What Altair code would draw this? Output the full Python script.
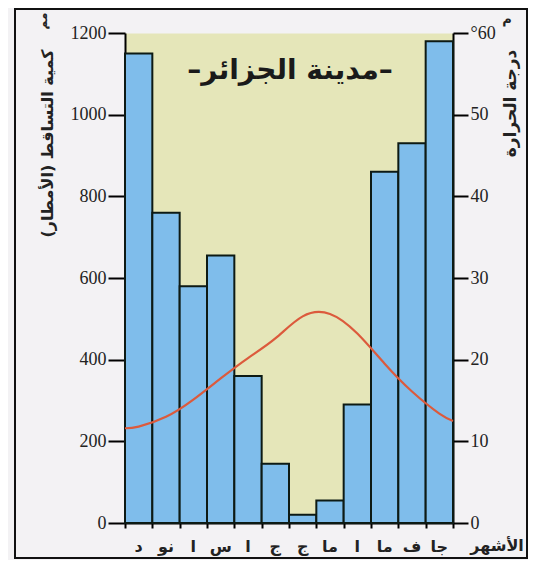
import altair as alt
import pandas as pd

# Months shown right-to-left in the reference (Dec ... Jan from left to right)
months = ["د", "نو", "ا", "س", "ا", "ج", "ج", "ما", "ا", "ما", "ف", "جا"]
precip = [1150, 760, 580, 655, 360, 145, 20, 55, 290, 860, 930, 1180]
temp = [11.8, 13.0, 15.1, 17.7, 20.2, 22.6, 25.3, 25.6, 23.2, 19.5, 16.1, 13.4]
temp_left_edge = 11.6
temp_right_edge = 12.5

title_text = "–مدينة الجزائر–"
left_title = "كمية التساقط (الأمطار)"
right_title = "درجة الحرارة"
x_title = "الأشهر"

df = pd.DataFrame({"idx": list(range(len(months))), "month": months, "precip": precip})
temp_pos = [0.0] + [i + 0.5 for i in range(len(temp))] + [float(len(temp))]
temp_vals = [temp_left_edge] + temp + [temp_right_edge]
tdf = pd.DataFrame({"pos": temp_pos, "temp": temp_vals})

W, H = 328, 490
ARAB = "DejaVu Sans"
SERIF = "Liberation Serif"

xscale = alt.Scale(domain=[0, 12], nice=False, zero=False, padding=0)
xaxis = alt.Axis(values=list(range(13)), labels=False, tickSize=5, tickWidth=2,
                 tickColor="black", domainColor="black", domainWidth=2,
                 grid=False, title=None)

left_axis = alt.Axis(values=[0, 200, 400, 600, 800, 1000, 1200], format="d", tickSize=17, tickWidth=2,
                     tickColor="black", domainColor="black", domainWidth=2, grid=False,
                     labelFont=SERIF, labelFontSize=18, labelColor="#222", labelPadding=2,
                     title=left_title, titleFont=ARAB, titleFontSize=16, titleFontWeight="bold",
                     titleColor="#222", titleAngle=270, titleX=-78, titleY=110,
                     titleAlign="center", titleBaseline="middle")

right_axis = alt.Axis(orient="right", values=[0, 10, 20, 30, 40, 50, 60], format="d", tickSize=15,
                      tickWidth=2, tickColor="black", domainColor="black", domainWidth=2, grid=False,
                      labelFont=SERIF, labelFontSize=18, labelColor="#222", labelPadding=2,
                      labelExpr="datum.value == 60 ? '°60' : datum.label",
                      title=right_title, titleFont=ARAB, titleFontSize=17, titleFontWeight="bold",
                      titleColor="#222", titleAngle=270, titleX=57, titleY=70,
                      titleAlign="center", titleBaseline="middle")

frame = alt.Chart(pd.DataFrame({"k": [0]})).mark_rect(
    fill="transparent", stroke="#111", strokeWidth=2
).encode(x=alt.value(-110), x2=alt.value(402), y=alt.value(-24), y2=alt.value(525))

bars = alt.Chart(df).transform_calculate(
    x0="datum.idx", x1="datum.idx + 1", base="0"
).mark_rect(color="#7fbdeb", stroke="#0d1a14", strokeWidth=2).encode(
    x=alt.X("x0:Q", scale=xscale, axis=xaxis),
    x2="x1:Q",
    y=alt.Y("precip:Q", scale=alt.Scale(domain=[0, 1200], nice=False, padding=0), axis=left_axis),
    y2="base:Q",
)

line = alt.Chart(tdf).mark_line(color="#dc5a3c", strokeWidth=2.2, interpolate="natural").encode(
    x=alt.X("pos:Q", scale=xscale, axis=xaxis),
    y=alt.Y("temp:Q", scale=alt.Scale(domain=[0, 60], nice=False, padding=0), axis=right_axis),
)

month_labels = alt.Chart(df).transform_calculate(xc="datum.idx + 0.5").mark_text(
    font=ARAB, fontSize=16, fontWeight="bold", color="#222", baseline="middle"
).encode(x=alt.X("xc:Q", scale=xscale, axis=xaxis), y=alt.value(514), text="month:N")

xt = alt.Chart(pd.DataFrame({"t": [x_title]})).mark_text(
    font=ARAB, fontSize=16, fontWeight="bold", color="#222", baseline="middle", align="center"
).encode(x=alt.value(372), y=alt.value(513), text="t:N")

title = alt.Chart(pd.DataFrame({"t": [title_text]})).mark_text(
    font=ARAB, fontSize=28, fontWeight="bold", color="#1a1a1a", baseline="middle", align="center"
).encode(x=alt.value(165), y=alt.value(38), text="t:N")

unit_l = alt.Chart(pd.DataFrame({"t": ["مم"]})).mark_text(
    font=ARAB, fontSize=12, fontWeight="bold", color="#222", angle=270, baseline="middle"
).encode(x=alt.value(-82), y=alt.value(-12), text="t:N")

unit_r = alt.Chart(pd.DataFrame({"t": ["م"]})).mark_text(
    font=ARAB, fontSize=13, fontWeight="bold", color="#222", baseline="middle"
).encode(x=alt.value(382), y=alt.value(-14), text="t:N")

chart = alt.layer(frame, bars, line, month_labels, xt, title, unit_l, unit_r).resolve_scale(
    y="independent"
).properties(
    width=W, height=H,
    autosize=alt.AutoSizeParams(type="none"),
    padding={"left": 117, "top": 25, "right": 75, "bottom": 37},
    background="#f3f2f4",
).configure_view(fill="#e5e6b9", stroke="transparent")

chart.save("out.html", embed_options={"renderer": "svg", "actions": False})
